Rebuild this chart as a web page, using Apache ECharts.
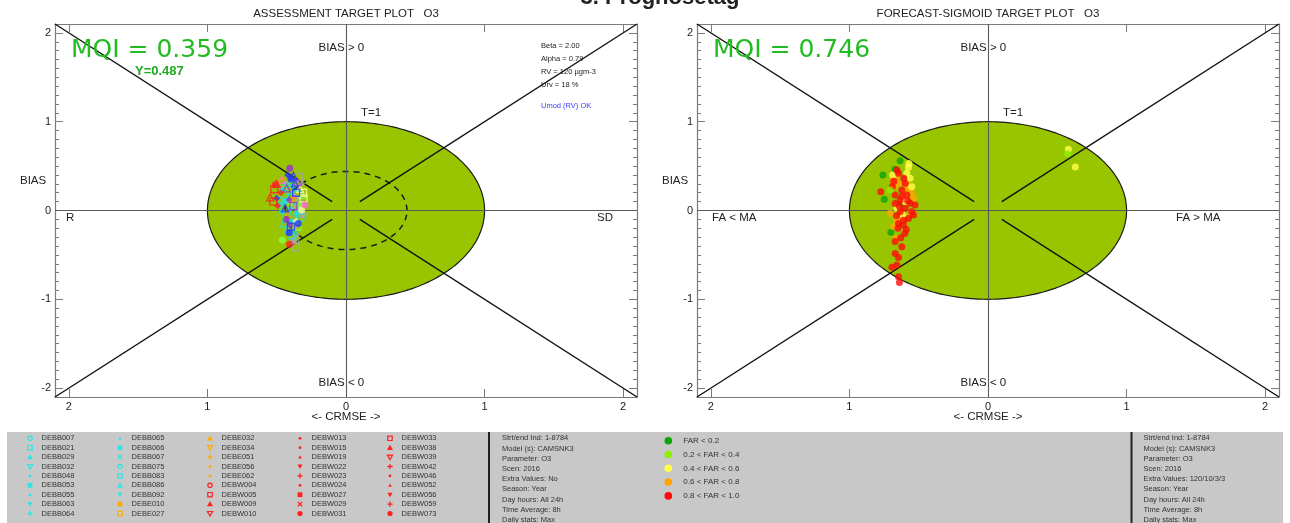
<!DOCTYPE html>
<html>
<head>
<meta charset="utf-8">
<script src="https://cdn.jsdelivr.net/npm/echarts@6/dist/echarts.min.js"></script>
<style>
html,body{margin:0;padding:0;background:#fff;}
#c{width:1290px;height:523px;}
</style>
</head>
<body>
<div id="c"></div>
<script>
// ---------- data ----------
// Assessment target plot: station points [CRMSE-side x, normalised bias y]
const cyanPts = [[-0.445,0.175],[-0.48,0.062],[-0.416,0.137],[-0.464,-0.013],[-0.428,-0.07],[-0.392,-0.126],[-0.39,-0.276],[-0.43,0.30],[-0.41,0.22],[-0.37,0.10],[-0.45,-0.15],[-0.40,0.02],[-0.35,0.18],[-0.46,0.25],[-0.42,-0.21],[-0.38,0.28],[-0.33,-0.08],[-0.44,0.10],[-0.39,0.33],[-0.36,-0.03]];
const bluePts = [[-0.397,0.355],[-0.368,0.306],[-0.50,0.137],[-0.397,-0.182],[-0.344,-0.145],[-0.44,0.025],[-0.42,0.40],[-0.36,0.20],[-0.41,-0.25],[-0.38,0.39]];
const purplePts = [[-0.406,0.475],[-0.428,0.25],[-0.404,-0.163],[-0.38,0.05],[-0.43,-0.10],[-0.35,0.32],[-0.41,0.12]];
const greyPts = [[-0.368,0.25],[-0.356,0.043],[-0.344,-0.032],[-0.356,-0.276],[-0.363,-0.415],[-0.38,-0.343],[-0.33,0.12],[-0.37,-0.20],[-0.34,0.38],[-0.31,-0.05],[-0.36,-0.32],[-0.32,0.30]];
const redPts = [[-0.517,0.239],[-0.51,0.29],[-0.548,0.148],[-0.493,0.054],[-0.525,0.10],[-0.408,-0.381],[-0.50,0.30],[-0.47,0.20]];
const orangePts = [[-0.46,0.31],[-0.38,0.12],[-0.42,-0.05]];
const paleYellowPts = [[-0.306,0.137],[-0.32,0.006],[-0.33,0.24],[-0.36,-0.12],[-0.31,0.20]];
const limePts = [[-0.46,-0.332],[-0.32,0.175],[-0.40,0.08],[-0.35,-0.18],[-0.33,0.06]];
const pinkPts = [[-0.296,0.062],[-0.464,0.344],[-0.37,0.15]];
const tealPts = [[-0.373,-0.246],[-0.40,0.17],[-0.34,0.00],[-0.37,-0.10]];

// Forecast target plot: points by false-alarm-ratio class
const farLt02 = [[-0.634,0.561],[-0.759,0.40],[-0.749,0.126],[-0.701,-0.246],[-0.671,0.464],[-0.63,0.069]];
const far02to04 = [[-0.706,0.231],[0.575,0.64]];
const far04to06 = [[-0.574,0.486],[-0.586,0.419],[-0.562,0.363],[-0.687,0.40],[-0.598,0.099],[-0.615,-0.05],[-0.658,0.024],[-0.55,0.268],[-0.57,0.53],[-0.60,0.15],[0.58,0.69],[0.63,0.49]];
const far06to08 = [[-0.687,0.344],[-0.682,0.268],[-0.55,0.193],[-0.62,-0.077],[-0.663,-0.313],[-0.538,0.137],[-0.658,-0.107],[-0.706,-0.032],[-0.586,0.306],[-0.60,0.22],[-0.64,0.30],[-0.66,0.38],[-0.57,0.25],[-0.68,-0.18],[-0.56,-0.03]];
const far08to10 = [[-0.774,0.212],[-0.658,0.456],[-0.646,0.419],[-0.598,0.306],[-0.622,0.231],[-0.67,0.175],[-0.586,0.175],[-0.634,0.119],[-0.562,0.081],[-0.598,0.024],[-0.55,-0.013],[-0.634,-0.013],[-0.574,-0.089],[-0.646,-0.145],[-0.61,-0.164],[-0.59,-0.213],[-0.63,-0.306],[-0.622,-0.407],[-0.67,-0.483],[-0.646,-0.528],[-0.658,-0.614],[-0.694,-0.640],[-0.646,-0.745],[-0.639,-0.812],[-0.526,0.062],[-0.538,-0.05],[-0.67,0.08],[-0.608,0.363],[-0.60,-0.26],[-0.65,-0.20],[-0.69,0.27],[-0.62,0.16],[-0.58,0.11],[-0.66,-0.06],[-0.61,-0.11],[-0.64,0.05],[-0.67,-0.35],[-0.68,0.33]];

// Summary numbers
const mqiAssessment = '0.359';
const yAssessment = '0.487';
const mqiForecast = '0.746';

// Axis ticks
const axisRange = 2.1;
const majorTicks = [-2, -1, 0, 1, 2];
const minorTicks = [];
for (let k = -20; k <= 20; k++) minorTicks.push(k / 10);

// Station legend
const stationNames = ['DEBB007','DEBB021','DEBB029','DEBB032','DEBB048','DEBB053','DEBB055','DEBB063','DEBB064',
  'DEBB065','DEBB066','DEBB067','DEBB075','DEBB083','DEBB086','DEBB092','DEBE010','DEBE027',
  'DEBE032','DEBE034','DEBE051','DEBE056','DEBE062','DEBW004','DEBW005','DEBW009','DEBW010',
  'DEBW013','DEBW015','DEBW019','DEBW022','DEBW023','DEBW024','DEBW027','DEBW029','DEBW031',
  'DEBW033','DEBW038','DEBW039','DEBW042','DEBW046','DEBW052','DEBW056','DEBW059','DEBW073'];
const stationSymbols = ['oc','os','t','oit','d','s','st','it','p',
  'st','s','x','oc','os','t','it','c','os',
  't','oit','p','d','st','oc','os','t','oit',
  'd','d','st','it','p','d','s','x','c',
  'os','t','oit','p','d','st','it','p','c'];
const infoLeft = ['Strt/end Ind: 1-8784','Model (s): CAMSNK3','Parameter: O3','Scen: 2016','Extra Values: No','Season: Year','Day hours: All 24h','Time Average: 8h','Daily stats: Max'];
const infoRight = ['Strt/end Ind: 1-8784','Model (s): CAMSNK3','Parameter: O3','Scen: 2016','Extra Values: 120/10/3/3','Season: Year','Day hours: All 24h','Time Average: 8h','Daily stats: Max'];
const farLabels = ['FAR < 0.2','0.2 < FAR < 0.4','0.4 < FAR < 0.6','0.6 < FAR < 0.8','0.8 < FAR < 1.0'];
const farColors = ['#0aa50a','#8ef000','#ffff4a','#ffa500','#ff0a0a'];
const paramLines = ['Beta = 2.00','Alpha = 0.79','RV = 120 \u00b5gm-3','Urv = 18 %'];

// ---------- layout ----------
const FONT = '"Liberation Sans", Arial, sans-serif';
const grids = [
  {left: 55, top: 24, width: 582, height: 373},
  {left: 697, top: 24, width: 582, height: 373}
];
const frameColor = '#7a7a7a';
const fillGreen = '#99c400';

const xAxes = [], yAxes = [], series = [];
grids.forEach((g, gi) => {
  xAxes.push({
    type: 'value', gridIndex: gi, position: 'bottom', min: -axisRange, max: axisRange,
    axisLine: {show: true, onZero: false, lineStyle: {color: frameColor, width: 1.2}},
    axisTick: {show: true, inside: true, length: 8, customValues: majorTicks, lineStyle: {color: frameColor}},
    axisLabel: {show: true, customValues: majorTicks, margin: 4, fontSize: 11, color: '#222', fontFamily: FONT,
      formatter: v => String(Math.abs(v))},
    splitLine: {show: false}
  });
  xAxes.push({
    type: 'value', gridIndex: gi, position: 'top', min: -axisRange, max: axisRange,
    axisLine: {show: true, onZero: false, lineStyle: {color: frameColor, width: 1.2}},
    axisTick: {show: true, inside: true, length: 8, customValues: majorTicks, lineStyle: {color: frameColor}},
    axisLabel: {show: false}, splitLine: {show: false}
  });
  ['left', 'right'].forEach(pos => {
    yAxes.push({
      type: 'value', gridIndex: gi, position: pos, min: -axisRange, max: axisRange,
      axisLine: {show: true, onZero: false, lineStyle: {color: frameColor, width: 1.2}},
      axisTick: {show: true, inside: true, length: 8, customValues: majorTicks, lineStyle: {color: frameColor}},
      axisLabel: {show: pos === 'left', customValues: majorTicks, margin: 4, fontSize: 11, color: '#222', fontFamily: FONT},
      splitLine: {show: false}
    });
    yAxes.push({
      type: 'value', gridIndex: gi, position: pos, min: -axisRange, max: axisRange,
      axisLine: {show: false, onZero: false},
      axisTick: {show: true, inside: true, length: 4, customValues: minorTicks, lineStyle: {color: frameColor}},
      axisLabel: {show: false}, splitLine: {show: false}
    });
  });
});

function ellipseSeries(gi, data, style, z) {
  return {
    type: 'custom', xAxisIndex: gi * 2, yAxisIndex: gi * 4, z: z, silent: true, clip: false,
    data: data,
    renderItem: (params, api) => {
      const cx = api.value(0), cy = api.value(1), rx = api.value(2), ry = api.value(3);
      const pts = [];
      for (let k = 0; k <= 200; k++) {
        const t = k / 200 * Math.PI * 2;
        pts.push(api.coord([cx + rx * Math.cos(t), cy + ry * Math.sin(t)]));
      }
      return {type: 'polygon', shape: {points: pts}, style: style};
    }
  };
}

const diagSegments = [
  [[-axisRange, axisRange], [-0.1, 0.1]],
  [[axisRange, axisRange], [0.1, 0.1]],
  [[-axisRange, -axisRange], [-0.1, -0.1]],
  [[axisRange, -axisRange], [0.1, -0.1]]
];
const centreSegments = [
  [[0, -axisRange], [0, axisRange]],
  [[-axisRange, 0], [axisRange, 0]]
];

grids.forEach((g, gi) => {
  series.push(ellipseSeries(gi, [[0, 0, 1, 1]], {fill: fillGreen, stroke: '#1a1a1a', lineWidth: 1.2}, 1));
  series.push({
    type: 'lines', coordinateSystem: 'cartesian2d', xAxisIndex: gi * 2, yAxisIndex: gi * 4, z: 3, silent: true,
    data: centreSegments.map(c => ({coords: c})),
    lineStyle: {color: '#5a5a5a', width: 1.1, opacity: 1}
  });
  series.push({
    type: 'lines', coordinateSystem: 'cartesian2d', xAxisIndex: gi * 2, yAxisIndex: gi * 4, z: 3, silent: true,
    data: diagSegments.map(c => ({coords: c})),
    lineStyle: {color: '#111', width: 1.4, opacity: 1}
  });
});
series.push(ellipseSeries(0, [[0, 0, 0.44, 0.44]], {fill: 'none', stroke: '#1a1a1a', lineWidth: 1.5, lineDash: [6, 5]}, 2));

// station markers (assessment plot)
const shapeCycle = ['rect', 'circle', 'triangle', 'diamond'];
function stationSeries(pts, color, offset) {
  return {
    type: 'scatter', xAxisIndex: 0, yAxisIndex: 0, z: 5, symbolSize: 7, silent: true,
    data: pts.map((p, i) => {
      const hollow = (i + offset) % 2 === 0;
      return {
        value: p,
        symbol: shapeCycle[(i + offset) % shapeCycle.length],
        itemStyle: hollow ? {color: 'rgba(0,0,0,0)', borderColor: color, borderWidth: 1.3} : {color: color}
      };
    })
  };
}
series.push(stationSeries(greyPts, '#a6a6a6', 0));
series.push(stationSeries(tealPts, '#33cc99', 1));
series.push(stationSeries(cyanPts, '#22dde6', 0));
series.push(stationSeries(limePts, '#88ff44', 1));
series.push(stationSeries(paleYellowPts, '#ffffa0', 0));
series.push(stationSeries(pinkPts, '#ff66dd', 1));
series.push(stationSeries(orangePts, '#ff9a00', 0));
series.push(stationSeries(purplePts, '#9a30d0', 1));
series.push(stationSeries(bluePts, '#2233ff', 1));
series.push(stationSeries(redPts, '#ff2020', 0));

// FAR class markers (forecast plot)
[[farLt02, farColors[0]], [far06to08, farColors[3]], [far04to06, farColors[2]], [far08to10, farColors[4]], [far02to04, farColors[1]]]
  .forEach(([pts, col]) => {
    series.push({
      type: 'scatter', xAxisIndex: 2, yAxisIndex: 4, z: 5, symbol: 'circle', symbolSize: 7, silent: true,
      data: pts, itemStyle: {color: col}
    });
  });

// ---------- text and panel graphics ----------
const gfx = [];
function txt(x, y, text, opts) {
  opts = opts || {};
  gfx.push({
    type: 'text', x: x, y: y, z: 100, silent: true,
    style: {
      text: text, fill: opts.fill || '#222',
      font: (opts.weight || 'normal') + ' ' + (opts.size || 11) + 'px ' + (opts.family || FONT),
      align: opts.align || 'left', verticalAlign: opts.valign || 'middle'
    }
  });
}

txt(660, -2, '3. Prognosetag', {size: 22, weight: 'bold', align: 'center'});
txt(grids[0].left + 291, 14, 'ASSESSMENT TARGET PLOT   O3', {size: 11.5, align: 'center'});
txt(grids[1].left + 291, 14, 'FORECAST-SIGMOID TARGET PLOT   O3', {size: 11.5, align: 'center'});

grids.forEach((g, gi) => {
  const cx = g.left + 291;
  txt(cx - 27.5, 48, 'BIAS > 0', {size: 11.5});
  txt(cx - 27.5, 383, 'BIAS < 0', {size: 11.5});
  txt(cx + 25, 113, 'T=1', {size: 11.5, align: 'center'});
  txt(g.left - 35, 181, 'BIAS', {size: 11.5});
  txt(cx, 417, '<- CRMSE ->', {size: 11.5, align: 'center'});
});
txt(grids[0].left + 11, 218, 'R', {size: 11.5});
txt(grids[0].left + 542, 218, 'SD', {size: 11.5});
txt(grids[1].left + 15, 218, 'FA < MA', {size: 11.5});
txt(grids[1].left + 479, 218, 'FA > MA', {size: 11.5});

txt(grids[0].left + 16, 50, 'MQI = ' + mqiAssessment, {size: 25, fill: '#22bb22', family: '"DejaVu Sans", sans-serif'});
txt(grids[0].left + 80, 71, 'Y=' + yAssessment, {size: 13, weight: 'bold', fill: '#22aa22'});
txt(grids[1].left + 16, 50, 'MQI = ' + mqiForecast, {size: 25, fill: '#22bb22', family: '"DejaVu Sans", sans-serif'});

paramLines.forEach((s, i) => txt(grids[0].left + 486, 46 + i * 13, s, {size: 7.5}));
txt(grids[0].left + 486, 106, 'Umod (RV) OK', {size: 7.5, fill: '#3a3aff'});

// bottom panel
gfx.push({type: 'rect', z: 90, silent: true, shape: {x: 7, y: 432, width: 1276, height: 91}, style: {fill: '#c8c8c8'}});
gfx.push({type: 'rect', z: 91, silent: true, shape: {x: 488, y: 432, width: 2, height: 91}, style: {fill: '#222'}});
gfx.push({type: 'rect', z: 91, silent: true, shape: {x: 1130.5, y: 432, width: 2, height: 91}, style: {fill: '#222'}});

function stationColor(i) {
  if (i < 16) return '#2ee6e6';
  if (i < 23) return '#ffaa00';
  return '#ff2020';
}
function legendSymbol(code, x, y, col) {
  const base = {z: 95, silent: true};
  const filled = {fill: col};
  const hollow = {fill: 'none', stroke: col, lineWidth: 1.2};
  let el;
  switch (code) {
    case 'oc': el = {type: 'circle', shape: {cx: x, cy: y, r: 2.2}, style: hollow}; break;
    case 'c': el = {type: 'circle', shape: {cx: x, cy: y, r: 2.6}, style: filled}; break;
    case 'd': el = {type: 'circle', shape: {cx: x, cy: y, r: 1.4}, style: filled}; break;
    case 'os': el = {type: 'rect', shape: {x: x - 2.2, y: y - 2.2, width: 4.4, height: 4.4}, style: hollow}; break;
    case 's': el = {type: 'rect', shape: {x: x - 2.4, y: y - 2.4, width: 4.8, height: 4.8}, style: filled}; break;
    case 't': el = {type: 'polygon', shape: {points: [[x, y - 3], [x + 3, y + 2.2], [x - 3, y + 2.2]]}, style: filled}; break;
    case 'st': el = {type: 'polygon', shape: {points: [[x, y - 1.8], [x + 1.8, y + 1.4], [x - 1.8, y + 1.4]]}, style: filled}; break;
    case 'it': el = {type: 'polygon', shape: {points: [[x, y + 2.6], [x + 2.6, y - 2], [x - 2.6, y - 2]]}, style: filled}; break;
    case 'oit': el = {type: 'polygon', shape: {points: [[x, y + 2.6], [x + 2.6, y - 2], [x - 2.6, y - 2]]}, style: hollow}; break;
    case 'p': el = {type: 'polyline', shape: {points: [[x - 2.6, y], [x + 2.6, y], [x, y], [x, y - 2.6], [x, y + 2.6]]}, style: {stroke: col, lineWidth: 1.3, fill: 'none'}}; break;
    case 'x': el = {type: 'polyline', shape: {points: [[x - 2.2, y - 2.2], [x + 2.2, y + 2.2], [x, y], [x + 2.2, y - 2.2], [x - 2.2, y + 2.2]]}, style: {stroke: col, lineWidth: 1.3, fill: 'none'}}; break;
    default: el = {type: 'circle', shape: {cx: x, cy: y, r: 2}, style: filled};
  }
  gfx.push(Object.assign(el, base));
}
stationNames.forEach((name, i) => {
  const col = Math.floor(i / 9), row = i % 9;
  const sx = 30 + col * 90, sy = 438.3 + row * 9.4;
  legendSymbol(stationSymbols[i], sx, sy, stationColor(i));
  gfx.push({type: 'text', x: sx + 11.5, y: sy, z: 96, silent: true,
    style: {text: name, fill: '#333', font: '7.5px ' + FONT, align: 'left', verticalAlign: 'middle'}});
});
infoLeft.forEach((s, i) => gfx.push({type: 'text', x: 502, y: 438.3 + i * 10.2, z: 96, silent: true,
  style: {text: s, fill: '#333', font: '7.5px ' + FONT, align: 'left', verticalAlign: 'middle'}}));
infoRight.forEach((s, i) => gfx.push({type: 'text', x: 1143.5, y: 438.3 + i * 10.2, z: 96, silent: true,
  style: {text: s, fill: '#333', font: '7.5px ' + FONT, align: 'left', verticalAlign: 'middle'}}));
farLabels.forEach((s, i) => {
  const y = 440.7 + i * 13.8;
  gfx.push({type: 'circle', z: 95, silent: true, shape: {cx: 668.3, cy: y, r: 3.8}, style: {fill: farColors[i]}});
  gfx.push({type: 'text', x: 683.3, y: y, z: 96, silent: true,
    style: {text: s, fill: '#333', font: '8px ' + FONT, align: 'left', verticalAlign: 'middle'}});
});

const chart = echarts.init(document.getElementById('c'), null, {renderer: 'canvas'});
chart.setOption({
  animation: false,
  backgroundColor: '#ffffff',
  grid: grids,
  xAxis: xAxes,
  yAxis: yAxes,
  series: series,
  graphic: gfx
});
</script>
</body>
</html>
